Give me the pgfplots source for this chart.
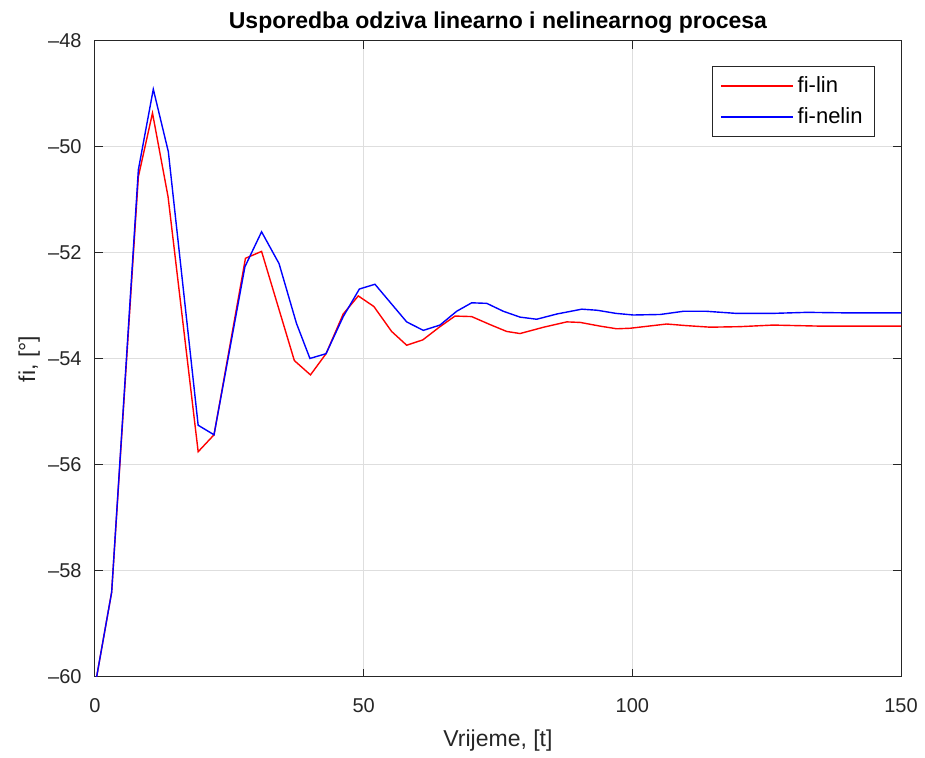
\documentclass[border=0pt]{standalone}
\usepackage{pgfplots}
\pgfplotsset{compat=1.18}
\usepackage{fontspec}
\setmainfont{Liberation Sans}
\definecolor{gridgray}{gray}{0.87}
\definecolor{axgray}{gray}{0.15}

\begin{document}
\begin{tikzpicture}
\begin{axis}[
    scale only axis,
    width=403pt, height=318pt,
    xmin=0, xmax=150, ymin=-60, ymax=-48,
    xtick={0,50,100,150},
    ytick={-60,-58,-56,-54,-52,-50,-48},
    yticklabels={–60,–58,–56,–54,–52,–50,–48},
    tick align=inside,
    major tick length=4pt,
    tick style={axgray, line width=0.5pt},
    axis line style={axgray, line width=0.5pt},
    grid=major,
    grid style={gridgray, line width=0.5pt},
    ticklabel style={font=\fontsize{10}{12}\selectfont, text=axgray},
    xticklabel style={anchor=base, yshift=-18pt},
    yticklabel style={anchor=east, inner xsep=0pt, xshift=-6.5pt},
    /pgf/number format/assume math mode=true,
    xlabel={Vrijeme, [t]},
    ylabel={fi, [°]},
    label style={font=\fontsize{11.5}{13}\selectfont, text=axgray},
    xlabel style={at={(axis description cs:0.5,-0.110)}, anchor=base},
    ylabel style={at={(axis description cs:-0.0744,0.5)}, anchor=base},
    title={\textbf{Usporedba odziva linearno i nelinearnog procesa}},
    title style={font=\fontsize{11.5}{13}\selectfont, at={(axis description cs:0.5,1)}, anchor=base, yshift=0pt},
    legend style={at={(axis description cs:1,1)}, anchor=north east,
        xshift=-13pt, yshift=-12.5pt,
        draw=axgray, line width=0.5pt, font=\fontsize{11}{13}\selectfont,
        inner xsep=4pt, inner ysep=3pt, row sep=2pt,
        nodes={inner sep=2pt}},
    legend cell align=left,
    legend image code/.code={\draw[#1] (0pt,0pt) -- (36pt,0pt);},
]
\addplot[red, line width=0.7pt] coordinates {
(0.3,-60) (3.1,-58.4) (8.07,-50.56) (10.7,-49.36) (13.6,-50.94) (19.2,-55.75)
(22.15,-55.43) (28.0,-52.1) (31.0,-51.97) (37.1,-54.03) (40.1,-54.30) (43.0,-53.9)
(46.2,-53.15) (49.0,-52.81) (51.9,-53.01) (55.2,-53.48) (58.0,-53.74) (61.0,-53.64)
(64.2,-53.39) (67.0,-53.19) (70.1,-53.2) (73.5,-53.35) (76.6,-53.48) (79.1,-53.52)
(83.5,-53.4) (87.8,-53.3) (90.3,-53.31) (94,-53.38) (97.1,-53.43) (99.6,-53.42)
(103,-53.38) (106.4,-53.34) (110,-53.37) (114.5,-53.40) (120,-53.39) (126.2,-53.36)
(135,-53.38) (150,-53.38)
};
\addplot[blue, line width=0.7pt] coordinates {
(0.3,-60) (3.1,-58.4) (8.07,-50.43) (10.85,-48.91) (13.65,-50.09) (19.2,-55.25)
(22.15,-55.43) (27.9,-52.26) (31.0,-51.6) (34.25,-52.2) (37.5,-53.33) (40.0,-53.99)
(43.0,-53.9) (46.2,-53.2) (49.2,-52.68) (52.1,-52.59) (58.0,-53.3) (61.1,-53.46)
(64.2,-53.36) (67.3,-53.1) (70.1,-52.94) (72.9,-52.95) (76,-53.1) (79.1,-53.21)
(82.2,-53.25) (86,-53.15) (90.6,-53.06) (93.4,-53.08) (97,-53.14) (100.2,-53.17)
(105.2,-53.16) (109.5,-53.1) (113.8,-53.1) (119.4,-53.14) (126,-53.14) (132.5,-53.12)
(140,-53.13) (150,-53.13)
};
\legend{fi-lin, fi-nelin}
\end{axis}
\pgfresetboundingbox
\useasboundingbox ([xshift=-47.5pt,yshift=-40.5pt]current axis.south west) rectangle ([xshift=12pt,yshift=20.5pt]current axis.north east);
\end{tikzpicture}
\end{document}
